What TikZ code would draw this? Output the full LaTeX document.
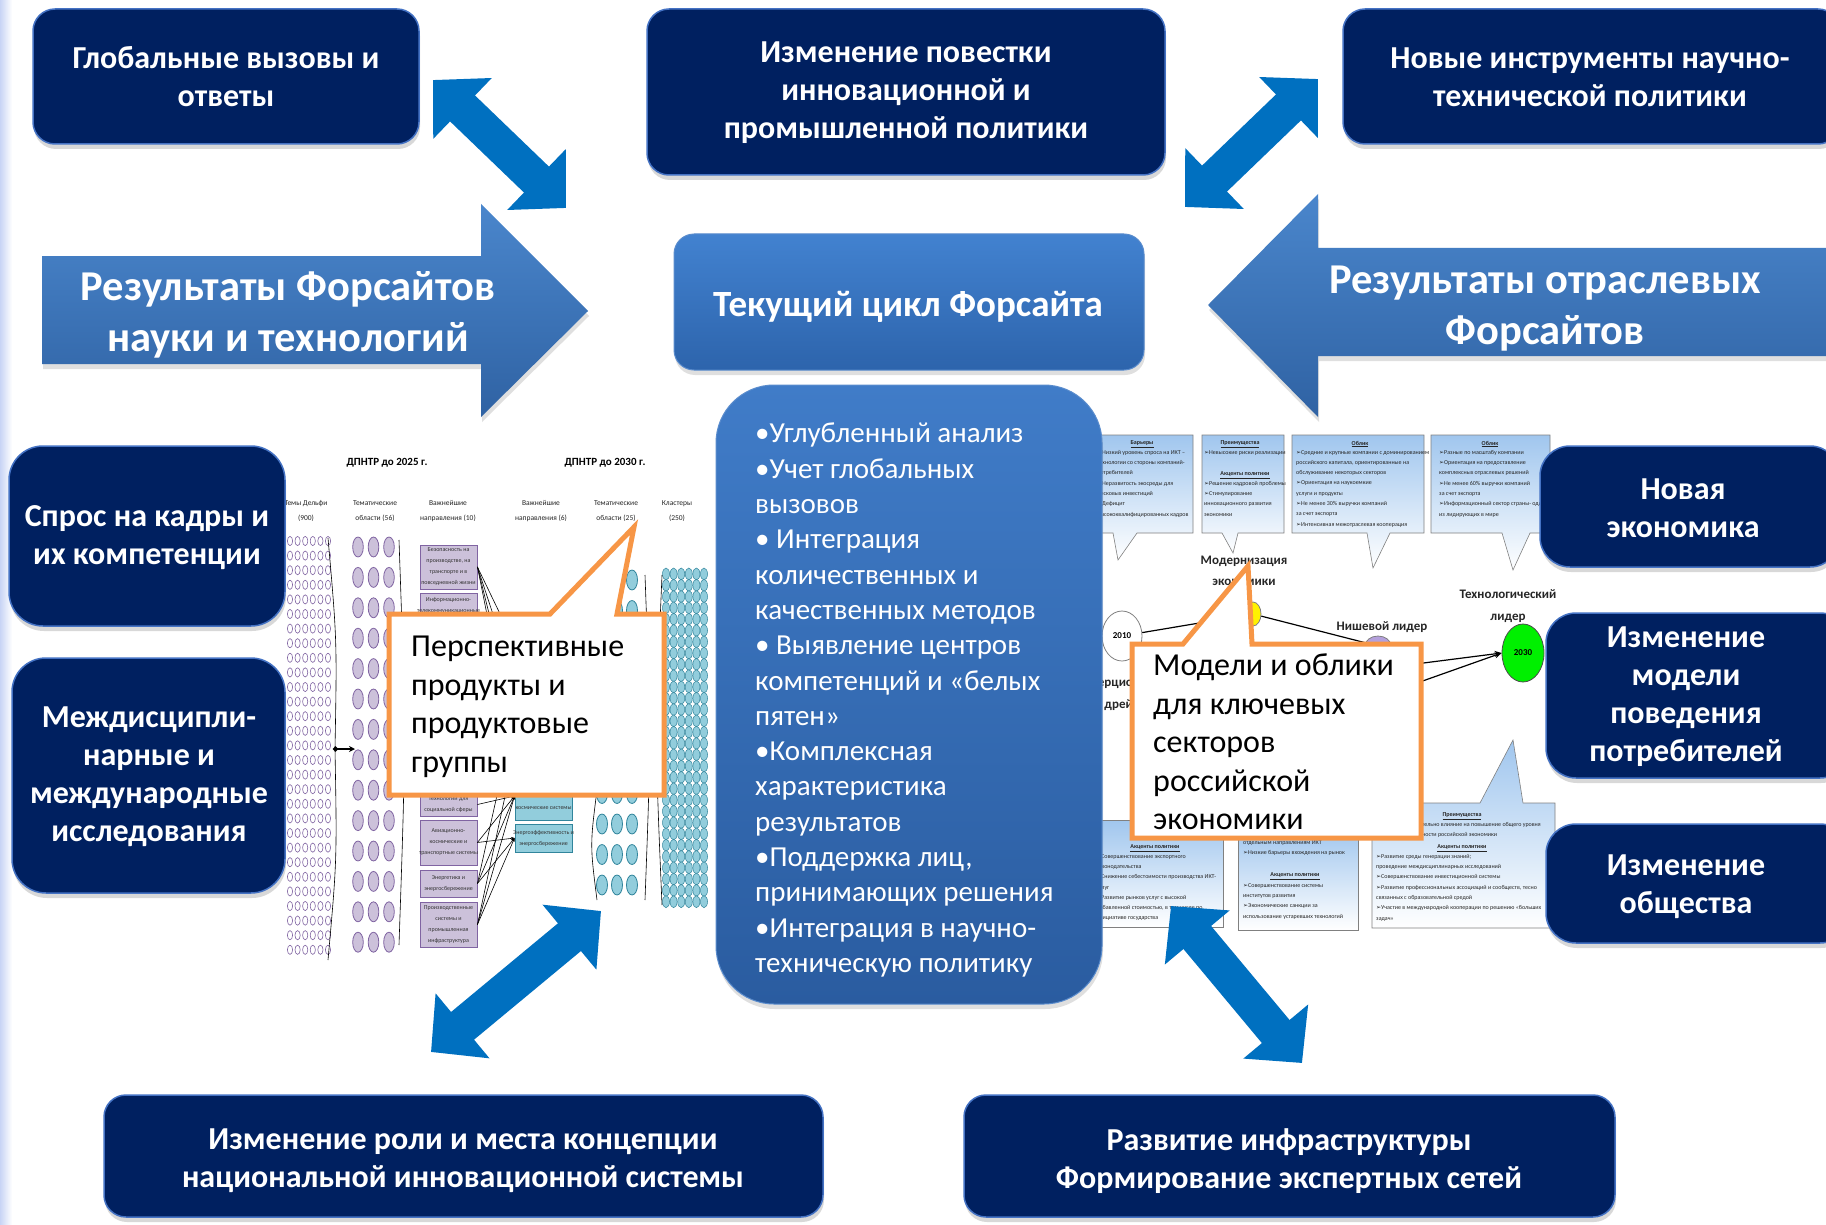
\documentclass[tikz,border=0pt]{standalone}
\usepackage{fontspec}
\setmainfont{Carlito}
\newfontfamily\dejavufam{DejaVu Sans}
\usetikzlibrary{arrows.meta,shadows,shapes.geometric}
\definecolor{navy}{RGB}{0,32,96}
\definecolor{navyedge}{RGB}{68,114,196}
\definecolor{arrowblue}{RGB}{0,112,192}
\definecolor{bigtop}{RGB}{74,134,204}
\definecolor{bigbot}{RGB}{47,98,163}
\definecolor{orangeC}{RGB}{247,150,70}
\definecolor{lavfill}{RGB}{204,193,218}
\definecolor{lavline}{RGB}{128,100,162}
\definecolor{tealfill}{RGB}{146,205,220}
\definecolor{tealline}{RGB}{49,133,156}
\definecolor{paleblue}{RGB}{160,198,238}
\newcommand{\tbul}{{\dejavufam\char"27A2}}
\begin{document}
\begin{tikzpicture}[x=1pt,y=-1pt]
\tikzset{
  navybox/.style={draw=navyedge, line width=1.5pt, fill=navy, rounded corners=22pt,
    drop shadow={opacity=0.3, shadow xshift=1pt, shadow yshift=-5pt}},
  boxtext/.style={text=white, font=\bfseries\fontsize{32}{38}\selectfont, align=center},
  bigtext/.style={text=white, font=\bfseries\fontsize{42.5}{51}\selectfont, align=center},
  dblarrow/.style={draw=arrowblue, line width=36pt,
    {Triangle[width=82pt,length=41pt]}-{Triangle[width=82pt,length=41pt]}},
  callout/.style={draw=orangeC, line width=5pt, fill=white, line join=miter},
  callouttext/.style={anchor=north west, align=left, inner sep=0pt, text=black,
    font=\fontsize{32}{38.5}\selectfont},
  lavbox/.style={draw=lavline, fill=lavfill, line width=0.9pt, minimum width=57pt, inner sep=0pt},
  tealbox/.style={draw=tealline, fill=tealfill, line width=0.9pt, minimum width=57pt, inner sep=0pt},
  boxsmall/.style={align=center, inner sep=0pt, font=\fontsize{6}{11}\selectfont, text=black!80},
  colhead/.style={align=center, inner sep=0pt, font=\fontsize{7.5}{15}\selectfont, text=black!85},
  fighead/.style={inner sep=0pt, font=\bfseries\fontsize{11}{13}\selectfont, text=black},
  tinyl/.style={anchor=north west, align=left, inner sep=0pt, font=\fontsize{6}{10.3}\selectfont, text=black!85},
  tinyh/.style={inner sep=0pt, font=\bfseries\fontsize{6}{8}\selectfont, text=black!85},
  figlabel/.style={align=center, inner sep=0pt, font=\bfseries\fontsize{13}{21.5}\selectfont, text=black!85},
  thinline/.style={draw=black, line width=0.6pt},
  tbox/.style={draw=gray, line width=0.6pt, top color=paleblue, bottom color=white}
}
\useasboundingbox (0,0) rectangle (1826,1225);
\fill[white] (0,0) rectangle (1826,1225);
\fill[left color={rgb,255:red,200;green,212;blue,245}, right color=white] (0,0) rectangle (12,1225);

% ================= LEFT FIGURE (ДПНТР) =================
\node[fighead] (h25) at (387,463) {ДПНТР до 2025 г.};
\node[fighead] (h30) at (605,463) {ДПНТР до 2030 г.};
\node[colhead] (ch1) at (306,511) {Темы Дельфи\\(900)};
\node[colhead] (ch2) at (375,511) {Тематические\\области (56)};
\node[colhead] (ch3) at (448,511) {Важнейшие\\направления (10)};
\node[colhead] (ch4) at (541,511) {Важнейшие\\направления (6)};
\node[colhead] (ch5) at (616,511) {Тематические\\области (25)};
\node[colhead] (ch6) at (677,511) {Кластеры\\(250)};
% column 1
\foreach \r in {0,...,28} \foreach \c in {0,...,5}
  \draw[lavline, line width=0.6pt, fill=white] (290+7.6*\c, 541+14.6*\r) ellipse [x radius=2.6pt, y radius=4.6pt];
% column 2
\foreach \r in {0,...,13} \foreach \c in {0,1,2}
  \draw[lavline, line width=0.8pt, fill=lavfill] (358+15.5*\c, 547+30.4*\r) ellipse [x radius=5.3pt, y radius=10pt];
% column 3 boxes
\foreach \i/\yc/\h in {1/567/44, 2/616.5/47, 3/662/36, 4/702/36, 5/739.5/31, 6/774/30, 7/804.5/23, 8/842.5/45, 9/883.5/27, 10/924.5/45}
  \node[lavbox, minimum height=\h pt] (b\i) at (448.5,\yc) {};
\node[boxsmall] (b1t) at (b1) {Безопасность на\\производстве, на\\транспорте и в\\повседневной жизни};
\node[boxsmall, anchor=north] (b2t) at (448.5,597) {Информационно-\\телекоммуникационные\\системы};
\node[boxsmall] (b7t) at (448.5,805) {Технологии для\\социальной сферы};
\node[boxsmall] (b8t) at (b8) {Авиационно-\\космические и\\транспортные системы};
\node[boxsmall] (b9t) at (b9) {Энергетика и\\энергосбережение};
\node[boxsmall] (b10t) at (b10) {Производственные\\системы и\\промышленная\\инфраструктура};
% column 4 boxes
\foreach \i/\yc/\h in {1/644/32, 2/680/32, 3/716/32, 4/752/32, 5/796/48, 6/838/28}
  \node[tealbox, minimum height=\h pt] (c\i) at (543.5,\yc) {};
\node[boxsmall] (c5t) at (543.5,808) {космические системы};
\node[boxsmall] (c6t) at (c6) {Энергоэффективность и\\энергосбережение};
% connectors col3 -> col4
\foreach \s/\t in {b1/c1, b1/c2, b1/c3, b1/c4, b8/c5, b8/c6, b9/c5, b9/c6, b10/c5, b10/c6, b10/c4, b9/c3, b7/c5}
  \draw[thinline, -{Stealth[length=3.5pt,width=3pt]}] (\s.east) -- (\t.west);
% column 5
\foreach \r in {0,...,10} \foreach \c in {0,1,2}
  \draw[tealline, line width=0.8pt, fill=tealfill] (602+15*\c, 580+30.5*\r) ellipse [x radius=5.5pt, y radius=10pt];
% column 6
\foreach \r in {0,...,29} \foreach \c in {0,...,5}
  \draw[tealline, line width=0.5pt, fill=tealfill] (666+7.6*\c, 574+11.3*\r) ellipse [x radius=3.5pt, y radius=6pt];
% brackets
\draw[thinline] (328,538) .. controls (337,640) .. (335,749) .. controls (337,860) .. (328,960);
\draw[thinline] (399,540) .. controls (406,740) .. (399,945);
\draw[thinline] (597,790) .. controls (590,845) .. (597,900);
\draw[thinline] (645,575) .. controls (651,740) .. (645,900);
\draw[thinline] (662,575) .. controls (655,740) .. (662,905);
\coordinate (k1) at (333,749);
\coordinate (k2) at (355,749);
\draw[line width=1.3pt, {Circle[length=5pt]}-{Stealth[length=6pt,width=6pt]}] (k1) -- (k2);

% ================= RIGHT FIGURE (Модели) =================
\path[tbox] (1085,435) -- (1193,435) -- (1193,533) -- (1137,533) -- (1118,560) -- (1113,533) -- (1085,533) -- cycle;
\path[tbox] (1202,435) -- (1284,435) -- (1284,533) -- (1238,533) -- (1233,553) -- (1222,533) -- (1202,533) -- cycle;
\path[tbox] (1292,435) -- (1424,435) -- (1424,533) -- (1390,533) -- (1373,568) -- (1367,533) -- (1292,533) -- cycle;
\path[tbox] (1431,435) -- (1550,435) -- (1550,533) -- (1530,533) -- (1513,570) -- (1502,533) -- (1431,533) -- cycle;
\path[tbox] (1085,820) rectangle (1223,927);
\path[tbox] (1238,828) rectangle (1358,930);
\path[tbox] (1372,803) -- (1480,803) -- (1513,740) -- (1523,803) -- (1555,803) -- (1555,928) -- (1372,928) -- cycle;

\node[tinyh] (t1h) at (1142,444) {\underline{Барьеры}};
\node[tinyl] (t1b) at (1097,450) {\tbul Низкий уровень спроса на ИКТ –\\технологии со стороны компаний-\\потребителей\\\tbul Неразвитость экосреды для\\рисковых инвестиций\\\tbul Дефицит\\высококвалифицированных кадров};
\node[tinyh] (t2h) at (1240,444) {\underline{Преимущества}};
\node[tinyl] (t2b) at (1204,450) {\tbul Невысокие риски реализации};
\node[tinyh] (t2h2) at (1245,475) {\underline{Акценты политики}};
\node[tinyl] (t2c) at (1204,481) {\tbul Решение кадровой проблемы\\\tbul Стимулирование\\инновационного развития\\экономики};
\node[tinyh] (t3h) at (1360,444) {\underline{Облик}};
\node[tinyl] (t3b) at (1296,450) {\tbul Средние и крупные компании с доминированием\\российского капитала, ориентированные на\\обслуживание некоторых секторов\\\tbul Ориентация на наукоемкие\\услуги и продукты\\\tbul Не менее 30\% выручки компаний\\за счет экспорта\\\tbul Интенсивная межотраслевая кооперация};
\node[tinyh] (t4h) at (1490,444) {\underline{Облик}};
\node[tinyl] (t4b) at (1439,450) {\tbul Разные по масштабу компании\\\tbul Ориентация на предоставление\\комплексных отраслевых решений\\\tbul Не менее 60\% выручки компаний\\за счет экспорта\\\tbul Информационный сектор страны- один\\из лидирующих в мире};

\node[tinyh] (b1h) at (1155,848) {\underline{Акценты политики}};
\node[tinyl] (b1b) at (1096,854) {\tbul Совершенствование экспортного\\законодательства\\\tbul Снижение себестоимости производства ИКТ-\\услуг\\\tbul Развитие рынков услуг с высокой\\добавленной стоимостью, в том числе по\\инициативе государства};
\node[tinyl] (b2a) at (1243,840) {отдельным направлениям ИКТ\\\tbul Низкие барьеры вхождения на рынок};
\node[tinyh] (b2h) at (1295,876) {\underline{Акценты политики}};
\node[tinyl] (b2b) at (1243,883) {\tbul Совершенствование системы\\институтов развития\\\tbul Экономические санкции за\\использование устаревших технологий};
\node[tinyh] (b3h) at (1462,816) {\underline{Преимущества}};
\node[tinyl] (b3a) at (1422,822) {тельно влияние на повышение общего уровня\\ности российской экономики};
\node[tinyh] (b3h2) at (1462,848) {\underline{Акценты политики}};
\node[tinyl] (b3b) at (1376,854) {\tbul Развитие среды генерации знаний;\\проведение междисциплинарных исследований\\\tbul Совершенствование инвестиционной системы\\\tbul Развитие профессиональных ассоциаций и сообществ, тесно\\связанных с образовательной средой\\\tbul Участие в международной кооперации по решению «больших\\задач»};

\node[figlabel] (modern) at (1244,571) {Модернизация\\экономики};
\node[figlabel] (niche) at (1382,627) {Нишевой лидер};
\node[figlabel] (techl) at (1508,606) {Технологический\\лидер};
\node[figlabel] (inert) at (1123,694) {Инерционный\\дрейф};
\node[ellipse, draw=gray, line width=0.8pt, fill=white, minimum width=40pt, minimum height=50pt, inner sep=0pt, font=\bfseries\fontsize{9}{10}\selectfont] (y2010) at (1122,636) {2010};
\node[ellipse, draw=gray, line width=0.8pt, fill=yellow, minimum width=16pt, minimum height=24pt, inner sep=0pt] (yel) at (1253,614) {};
\node[ellipse, draw=gray, line width=0.8pt, fill={rgb,255:red,180;green,160;blue,220}, minimum width=26pt, minimum height=20pt, inner sep=0pt] (pur) at (1378,646) {};
\node[ellipse, draw=black!70, line width=0.8pt, fill={rgb,255:red,0;green,240;blue,0}, minimum width=42pt, minimum height=58pt, inner sep=0pt, font=\bfseries\fontsize{9}{10}\selectfont] (g2030) at (1523,653) {2030};
\coordinate (hid1) at (1400,666);
\coordinate (hid2) at (1400,689);
\draw[line width=1.2pt] (y2010) -- (yel);
\draw[line width=1.2pt] (yel) -- (pur);
\draw[line width=1.2pt, -{Stealth[length=7pt,width=6pt]}] (hid1) -- (g2030.west);
\draw[line width=1.2pt, -{Stealth[length=7pt,width=6pt]}] (hid2) -- (g2030.west);

% ================= CALLOUTS =================
\path[callout] (389,614) -- (550,614) -- (634,527) -- (617,614) -- (664,614) -- (664,795) -- (389,795) -- cycle;
\node[callouttext] (cl1) at (411,636) {Перспективные\\продукты и\\продуктовые\\группы};
\path[callout] (1132,644) -- (1183,644) -- (1248,566) -- (1252,644) -- (1421,644) -- (1421,838) -- (1132,838) -- cycle;
\node[callouttext] (cl2) at (1153,654) {Модели и облики\\для ключевых\\секторов\\российской\\экономики};

% ================= CENTRAL BLOCKS =================
\node[rounded corners=58pt, top color={rgb,255:red,64;green,124;blue,200}, bottom color={rgb,255:red,42;green,92;blue,160},
  draw={rgb,255:red,90;green,140;blue,205}, line width=1pt, minimum width=386pt, minimum height=619pt,
  drop shadow={opacity=0.25, shadow xshift=1pt, shadow yshift=-5pt}] (bul) at (909,694.5) {};
\node[anchor=north west, align=left, inner sep=0pt, text=white, font=\fontsize{29}{35.3}\selectfont] (bult) at (755,423) {%
•Углубленный анализ\\
•Учет глобальных\\
вызовов\\
• Интеграция\\
количественных и\\
качественных методов\\
• Выявление центров\\
компетенций и «белых\\
пятен»\\
•Комплексная\\
характеристика\\
результатов\\
•Поддержка лиц,\\
принимающих решения\\
•Интеграция в научно-\\
техническую политику};

\node[rounded corners=20pt, top color={rgb,255:red,66;green,130;blue,208}, bottom color={rgb,255:red,45;green,100;blue,172},
  draw={rgb,255:red,90;green,140;blue,205}, line width=1pt, minimum width=470pt, minimum height=136pt,
  drop shadow={opacity=0.25, shadow xshift=1pt, shadow yshift=-5pt}] (cur) at (909,302) {};
\node[text=white, font=\bfseries\fontsize{37}{44}\selectfont, inner sep=0pt] (curt) at (908,307) {Текущий цикл Форсайта};

% big arrows
\path[top color=bigtop, bottom color=bigbot, drop shadow={opacity=0.25, shadow xshift=1pt, shadow yshift=-5pt}]
  (42,256) -- (481,256) -- (481,204) -- (588,311) -- (481,417) -- (481,364) -- (42,364) -- cycle;
\node[bigtext] (rfst) at (288,315) {Результаты Форсайтов\\науки и технологий};
\path[top color=bigtop, bottom color=bigbot, drop shadow={opacity=0.25, shadow xshift=1pt, shadow yshift=-5pt}]
  (1850,248) -- (1318,248) -- (1318,194) -- (1208,305) -- (1318,417) -- (1318,356) -- (1850,356) -- cycle;
\node[bigtext] (rotr) at (1545,309) {Результаты отраслевых\\Форсайтов};

% ================= NAVY BOXES =================
\node[navybox, minimum width=386pt, minimum height=135pt] (tl) at (226,76.5) {};
\node[boxtext] (tlt) at (226,77) {Глобальные вызовы и\\ответы};
\node[navybox, minimum width=518pt, minimum height=166pt] (tc) at (906,92) {};
\node[boxtext] (tct) at (906,93) {Изменение повестки\\инновационной и\\промышленной политики};
\node[navybox, minimum width=497pt, minimum height=135pt] (tr) at (1591.5,76.5) {};
\node[boxtext] (trt) at (1590,77) {Новые инструменты научно-\\технической политики};
\node[navybox, rounded corners=34pt, minimum width=276pt, minimum height=180pt] (l1) at (147,536) {};
\node[boxtext] (l1t) at (147,538) {Спрос на кадры и\\их компетенции};
\node[navybox, rounded corners=34pt, minimum width=273pt, minimum height=235pt] (l2) at (148.5,775.5) {};
\node[boxtext] (l2t) at (149,777) {Междисципли-\\нарные и\\международные\\исследования};
\node[navybox, rounded corners=30pt, minimum width=300pt, minimum height=121pt] (r1) at (1690,506.5) {};
\node[boxtext] (r1t) at (1683,508) {Новая\\экономика};
\node[navybox, rounded corners=30pt, minimum width=304pt, minimum height=165pt] (r2) at (1698,695.5) {};
\node[boxtext] (r2t) at (1686,697) {Изменение\\модели\\поведения\\потребителей};
\node[navybox, rounded corners=30pt, minimum width=304pt, minimum height=119pt] (r3) at (1698,883.5) {};
\node[boxtext] (r3t) at (1686,887) {Изменение\\общества};
\node[navybox, minimum width=719pt, minimum height=122pt] (bt1) at (463.5,1156) {};
\node[boxtext] (bt1t) at (463,1161) {Изменение роли и места концепции\\национальной инновационной системы};
\node[navybox, minimum width=651pt, minimum height=122pt] (bt2) at (1289.5,1156) {};
\node[boxtext] (bt2t) at (1289,1161) {Развитие инфраструктуры\\Формирование экспертных сетей};

% ================= DOUBLE ARROWS =================
\coordinate (da1a) at (433,80);   \coordinate (da1b) at (566,208);
\coordinate (da2a) at (1185,207); \coordinate (da2b) at (1318,79);
\coordinate (da3a) at (431,1052); \coordinate (da3b) at (601,911);
\coordinate (da4a) at (1171,906); \coordinate (da4b) at (1302,1063);
\draw[dblarrow] (da1a) -- (da1b);
\draw[dblarrow] (da2a) -- (da2b);
\draw[dblarrow] (da3a) -- (da3b);
\draw[dblarrow] (da4a) -- (da4b);
\end{tikzpicture}
\end{document}
